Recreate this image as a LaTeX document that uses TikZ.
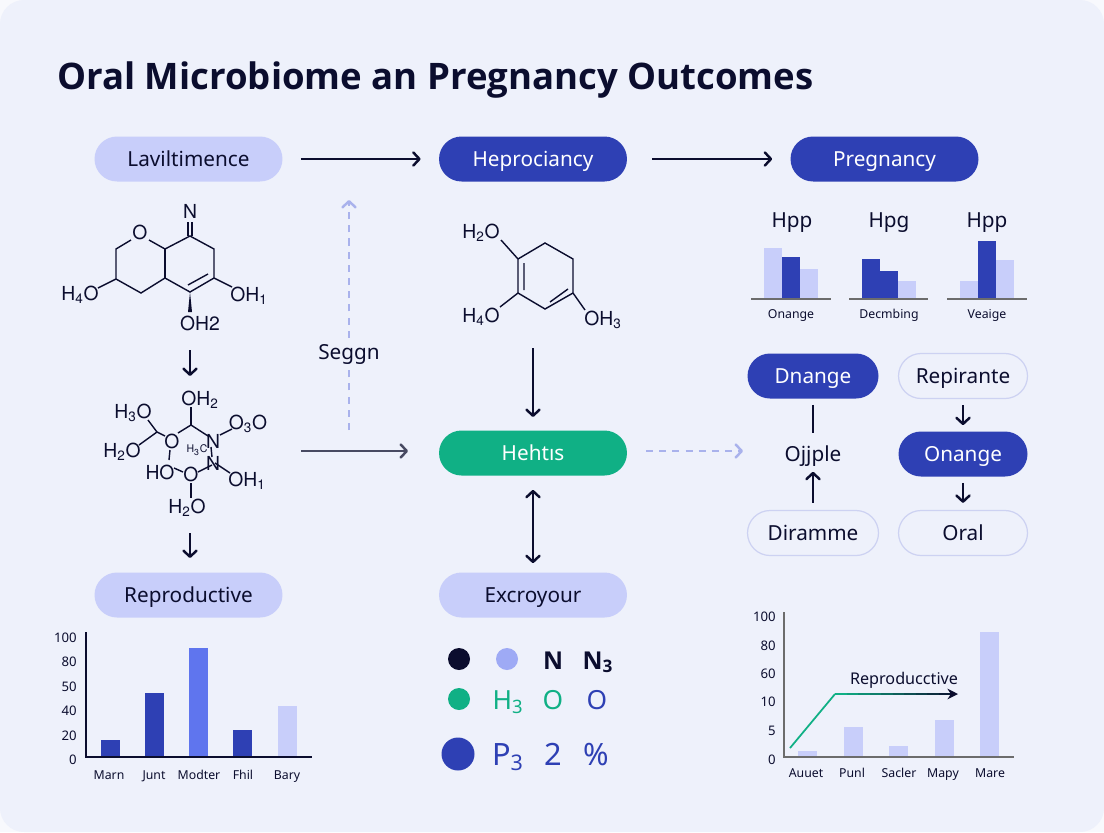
\documentclass[tikz,border=0pt]{standalone}
\usepackage{fontspec}
\setmainfont{Noto Sans}
\newfontfamily\titlefont{Open Sans}
\newfontfamily\chemfont{TeX Gyre Heros}
\usetikzlibrary{arrows.meta}
\definecolor{pagebg}{HTML}{EEF1FB}
\definecolor{inkdark}{HTML}{0B0D2E}
\definecolor{navy}{HTML}{2E40B4}
\definecolor{periwinkle}{HTML}{C8CEFA}
\definecolor{midblue}{HTML}{5F75EE}
\definecolor{paleline}{HTML}{CDD2F2}
\definecolor{mint}{HTML}{10B085}
\tikzset{
  barb/.tip={Straight Barb[length=3.5pt,width=7.5pt,line width=1.4pt,round]},
  labeltxt/.style={inner sep=0pt, font=\fontsize{11.8}{13}\selectfont, text height=10.5pt, text depth=2.5pt},
  pill/.style={labeltxt, rounded corners=0.45cm, minimum width=3.76cm, minimum height=0.9cm},
  softpill/.style={pill, fill=periwinkle, text=inkdark},
  navypill/.style={pill, fill=navy, text=white},
  mintpill/.style={pill, fill=mint, text=white},
  smallpill/.style={labeltxt, rounded corners=0.45cm, minimum width=2.58cm, minimum height=0.9cm},
  smallnavy/.style={smallpill, fill=navy, text=white},
  smallline/.style={smallpill, fill=pagebg, draw=paleline, line width=0.7pt, text=inkdark},
  flow/.style={draw=inkdark, line width=1.1pt, -barb},
  paleflow/.style={draw=periwinkle!80!navy, line width=1.5pt, dash pattern=on 4pt off 3.5pt, -barb},
  chem/.style={font=\chemfont\fontsize{11}{12}\selectfont, text=inkdark, inner sep=0pt},
  bond/.style={draw=inkdark, line width=0.8pt},
  ticktxt/.style={font=\fontsize{7.5}{9}\selectfont, text=inkdark, inner sep=0pt, text height=6pt, text depth=0pt},
  captxt/.style={font=\fontsize{7}{9}\selectfont, text=inkdark, inner sep=0pt, text height=6.5pt, text depth=1.8pt},
  legendtxt/.style={inner sep=0pt, anchor=base},
}
\begin{document}
\begin{tikzpicture}[x=0.02cm, y=-0.02cm]
  \useasboundingbox (0,0) rectangle (1104,832);
  \fill[pagebg!40!white] (0,0) rectangle (1104,832);
  \fill[pagebg] (0,0) [rounded corners=0.48cm] rectangle (1104,832);
  \node[anchor=base west, inner sep=0pt, text=inkdark, font=\titlefont\bfseries\fontsize{20.8}{24}\selectfont] (title) at (57,89) {Oral Microbiome an Pregnancy Outcomes};

  % top row
  \node[softpill] (lavil) at (188.5,159) {Laviltimence};
  \node[navypill] (hepro) at (533,159) {Heprociancy};
  \node[navypill] (pregn) at (884.5,159) {Pregnancy};
  \draw[flow, shorten <=0.36cm, shorten >=0.36cm] (lavil) -- (hepro);
  \draw[flow, shorten <=0.5cm, shorten >=0.36cm] (hepro) -- (pregn);

  % middle column
  \node[mintpill] (hehtis) at (533,453) {Hehtıs};
  \node[softpill] (excro) at (533,595) {Excroyour};
  \node[softpill] (repro) at (188.5,595) {Reproductive};
  \coordinate (hoh) at (533,348);
  \coordinate (hoh2) at (533,417);
  \draw[flow] (hoh) -- (hoh2);
  \draw[draw=inkdark, line width=1.1pt, barb-barb, shorten <=0.28cm, shorten >=0.18cm] (hehtis) -- (excro);

  % left column
  \coordinate (moltop) at (190,350);
  \coordinate (molmid) at (190,376);
  \coordinate (molbot) at (190,533);
  \coordinate (molend) at (190,558);
  \draw[flow] (moltop) -- (molmid);
  \draw[flow] (molbot) -- (molend);
  \coordinate (mollink) at (301,451);
  \coordinate (molhit) at (408,451);
  \draw[draw=inkdark!75, line width=1.1pt, -barb] (mollink) -- (molhit);
  \coordinate (dotstart) at (349,430);
  \coordinate (dotend) at (349,200);
  \draw[paleflow] (dotstart) -- (dotend);
  \node[labeltxt, text=inkdark, fill=pagebg, inner xsep=2pt] (seggn) at (349,352) {Seggn};
  \coordinate (dashstart) at (646,451);
  \coordinate (dashend) at (743,451);
  \draw[paleflow] (dashstart) -- (dashend);

  % right block
  \node[smallnavy, minimum width=2.62cm] (dnange) at (813,376) {Dnange};
  \node[smallline] (repir) at (963,376) {Repirante};
  \node[labeltxt, text=inkdark] (ojjple) at (813,454) {Ojjple};
  \node[smallnavy] (onange) at (963,454) {Onange};
  \node[smallline, minimum width=2.62cm] (diram) at (813,533) {Diramme};
  \node[smallline] (oral) at (963,533) {Oral};
  \draw[inkdark, line width=1.1pt, shorten <=0.12cm, shorten >=0.18cm] (dnange) -- (ojjple);
  \draw[flow, shorten <=0.14cm, shorten >=0.12cm] (diram) -- (ojjple);
  \draw[flow, shorten <=0.12cm, shorten >=0.12cm] (repir) -- (onange);
  \draw[flow, shorten <=0.12cm, shorten >=0.14cm] (onange) -- (oral);

  % first molecule
  \foreach \n/\x/\y in {a1/116/249, a2/165/249, a3/190/236, a4/214/249, a5/214/278, a6/190/292, a7/165/278, a8/141/293, a9/116/279, a10/131/240, a11/149/240}
    \coordinate (\n) at (\x,\y);
  \node[chem] (oa) at (140,232) {O};
  \node[chem] (na) at (190,211) {N};
  \node[chem] (ha) at (80,295) {H\textsubscript{4}O};
  \node[chem] (hb) at (249,296) {OH\textsubscript{1}};
  \node[chem] (hc) at (200,323) {OH2};
  \draw[bond] (a10) -- (a1) -- (a9) -- (a8) -- (a7) -- (a6) -- (a5) -- (a4) -- (a3) -- (a2) -- (a11);
  \draw[bond] (a2) -- (a7);
  \coordinate (d1) at (208,274);
  \coordinate (d2) at (188,285);
  \draw[bond] (d1) -- (d2);
  \coordinate (d3) at (188,236);
  \coordinate (d4) at (188,222);
  \coordinate (d5) at (192,236);
  \coordinate (d6) at (192,222);
  \draw[bond] (d3) -- (d4) (d5) -- (d6);
  \coordinate (e1) at (98,288);
  \coordinate (e2) at (232,287);
  \coordinate (e3) at (188,312);
  \coordinate (e4) at (192,312);
  \draw[bond] (a9) -- (e1) (a5) -- (e2);
  \fill[inkdark] (a6) -- (e3) -- (e4) -- cycle;

  % second molecule
  \node[chem] (ob) at (200,400) {OH\textsubscript{2}};
  \node[chem] (oc) at (133,413) {H\textsubscript{3}O};
  \node[chem] (od) at (248,424) {O\textsubscript{3}O};
  \node[chem] (oe) at (122,452) {H\textsubscript{2}O};
  \node[chem] (of) at (172,441) {O};
  \node[chem] (og) at (213,441) {N};
  \node[chem, font=\chemfont\fontsize{6}{7}\selectfont] (oh) at (197,450) {H\textsubscript{3}C};
  \node[chem] (oi) at (213,463) {N};
  \node[chem] (oj) at (160,472) {HO};
  \node[chem] (ok) at (191,474) {O};
  \node[chem] (ol) at (247,481) {OH\textsubscript{1}};
  \node[chem] (om) at (187,508) {H\textsubscript{2}O};
  \foreach \n/\x/\y/\m/\u/\v in {s1/191/407/t1/191/425, s2/191/425/t2/178/433, s3/191/425/t3/208/436, s4/157/432/t4/165/436, s5/148/420/t5/157/432, s6/157/432/t6/139/445, s7/170/450/t7/169/460, s8/174/468/t8/183/472, s9/198/472/t9/212/465, s10/215/463/t10/230/473, s11/191/483/t11/191/498, s12/220/435/t12/232/429, s13/211/447/t13/212/457}
    \draw[bond] (\x,\y) coordinate (\n) -- (\u,\v) coordinate (\m);

  % third molecule
  \foreach \n/\x/\y in {b1/518/259, b2/545/243, b3/573/259, b4/573/293, b5/545/309, b6/518/293, b7/524/263, b8/524/290, b9/550/302, b10/568/289, b11/501/240, b12/500/307, b13/585/310}
    \coordinate (\n) at (\x,\y);
  \draw[bond] (b1) -- (b2) -- (b3) -- (b4) -- (b5) -- (b6) -- (b1);
  \draw[bond] (b7) -- (b8) (b9) -- (b10);
  \draw[bond] (b1) -- (b11) (b6) -- (b12) (b4) -- (b13);
  \node[chem] (pa) at (481,233) {H\textsubscript{2}O};
  \node[chem] (pb) at (481,317) {H\textsubscript{4}O};
  \node[chem] (pc) at (603,320) {OH\textsubscript{3}};

  % small charts top right
  \foreach \x/\t/\c in {764/248/periwinkle, 782/257/navy, 800/269/periwinkle, 862/259/navy, 880/271/navy, 898/281/periwinkle, 960/281/periwinkle, 978/241/navy, 996/260/periwinkle}
    \fill[\c] (\x,\t) rectangle ++(18,299-\t);
  \foreach \x/\e in {751/831, 849/928, 947/1027}
    \draw[gray!85!black, line width=0.7pt] (\x,299) -- (\e,299);
  \foreach \n/\x/\t in {hpa/792/Hpp, hpb/889/Hpg, hpc/987/Hpp}
    \node[labeltxt, text=inkdark] (\n) at (\x,220) {\t};
  \foreach \n/\x/\t in {caa/791/Onange, cab/889/Decmbing, cac/987/Veaige}
    \node[captxt] (\n) at (\x,314) {\t};

  % left chart
  \foreach \x/\t/\c in {101/740/navy, 145/693/navy, 189/648/midblue, 233/730/navy, 278/706/periwinkle}
    \fill[\c] (\x,\t) rectangle ++(19,757-\t);
  \draw[inkdark, line width=1pt] (86,632) -- (86,757) -- (312,757);
  \foreach \y/\t in {637/100, 661/80, 686/50, 710/40, 735/20, 759/0}
    \node[ticktxt, anchor=east] at (77,\y) {\t};
  \foreach \x/\t in {109/Marn, 154/Junt, 199/Modter, 243/Fhil, 287/Bary}
    \node[captxt] at (\x,775) {\t};

  % legend
  \fill[inkdark] (459,659) circle [radius=11];
  \fill[periwinkle!60!midblue] (507,659) circle [radius=11];
  \fill[mint] (459,699) circle [radius=11];
  \fill[navy] (458,754) circle [radius=16.5];
  \node[legendtxt, text=inkdark, font=\titlefont\bfseries\fontsize{14}{15}\selectfont] (na1) at (553,669) {N};
  \node[legendtxt, text=inkdark, font=\titlefont\bfseries\fontsize{14}{15}\selectfont] (na2) at (598,669) {N\textsubscript{3}};
  \node[legendtxt, text=mint, font=\fontsize{15}{17}\selectfont] (hb1) at (508,709) {H\textsubscript{3}};
  \node[legendtxt, text=mint, font=\fontsize{15}{17}\selectfont] (ob1) at (553,709) {O};
  \node[legendtxt, text=navy, font=\fontsize{15}{17}\selectfont] (ob2) at (597,709) {O};
  \node[legendtxt, text=navy, font=\fontsize{17.5}{20}\selectfont] (pb1) at (508,765) {P\textsubscript{3}};
  \node[legendtxt, text=navy, font=\fontsize{17.5}{20}\selectfont] (tb1) at (553,765) {2};
  \node[legendtxt, text=navy, font=\fontsize{17.5}{20}\selectfont] (pc1) at (596,765) {\%};

  % right chart
  \foreach \x/\t in {798/751, 844/727, 889/746, 935/720, 980/632}
    \fill[periwinkle] (\x,\t) rectangle ++(18.5,757-\t);
  \draw[gray!85!black, line width=0.8pt] (784,612) -- (784,757) -- (1014,757);
  \foreach \y/\t in {616/100, 645/80, 673/60, 701/10, 730/5, 759/0}
    \node[ticktxt, anchor=east] at (776,\y) {\t};
  \foreach \x/\t in {806/Auuet, 852/Punl, 899/Sacler, 943/Mapy, 990/Mare}
    \node[captxt] at (\x,773) {\t};
  \coordinate (t0) at (790,748);
  \coordinate (t1) at (835,694);
  \coordinate (t2) at (950,694);
  \coordinate (t3) at (958,694);
  \draw[mint, line width=1pt] (t0) -- (t1);
  \foreach \i [evaluate=\i as \m using {100-\i*10}] in {0,...,9}
    \draw[mint!\m!inkdark, line width=1pt] (835+\i*11.5,694) -- ++(11.6,0);
  \draw[inkdark, line width=1pt, -{Stealth[length=6pt,width=6pt]}] (t2) -- (t3);
  \node[inner sep=0pt, text=inkdark, font=\fontsize{9.2}{10}\selectfont] (trend) at (904,680) {Reproducctive};
\end{tikzpicture}
\end{document}
